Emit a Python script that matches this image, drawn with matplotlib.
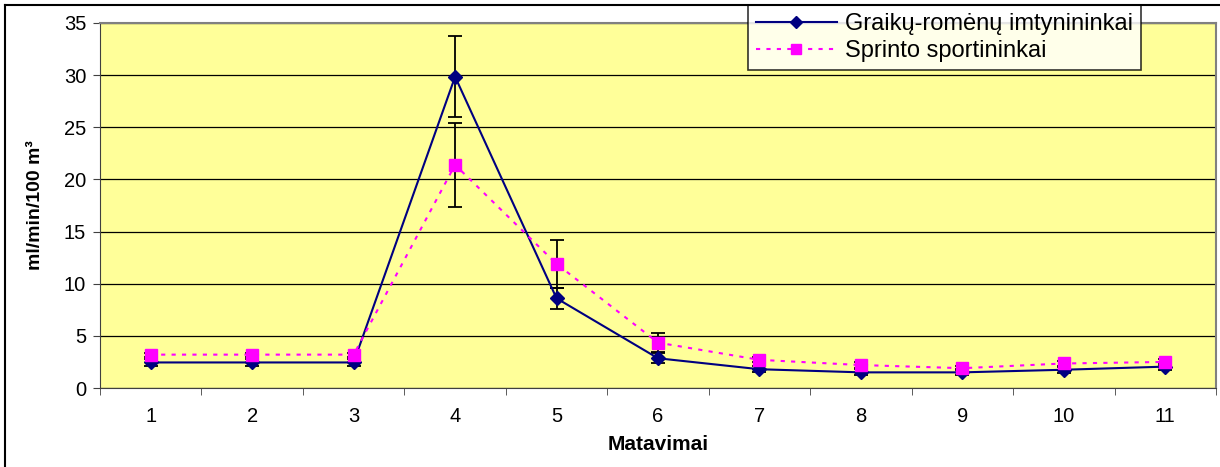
import matplotlib
matplotlib.use("Agg")
import matplotlib.pyplot as plt
from matplotlib.lines import Line2D
import numpy as np

plt.rcParams['font.family'] = ['Liberation Sans', 'DejaVu Sans']

measurements = [1, 2, 3, 4, 5, 6, 7, 8, 9, 10, 11]
wrestlers = [2.45, 2.45, 2.45, 29.85, 8.6, 2.85, 1.8, 1.5, 1.5, 1.75, 2.05]
wrestlers_err = [0.3, 0.3, 0.3, 3.9, 1.0, 0.5, 0.3, 0.3, 0.3, 0.3, 0.3]
sprinters = [3.2, 3.2, 3.2, 21.4, 11.9, 4.35, 2.7, 2.2, 1.9, 2.35, 2.5]
sprinters_err = [0.2, 0.2, 0.2, 4.05, 2.3, 0.9, 0.25, 0.25, 0.2, 0.25, 0.25]

label_wrestlers = "Graikų-romėnų imtynininkai"
label_sprinters = "Sprinto sportininkai"

fig = plt.figure(figsize=(12.2, 4.67), dpi=100)
ax = fig.add_axes([100 / 1220, 1 - 388 / 467, 1116 / 1220, 365 / 467])
ax.set_facecolor("#FFFF99")

x = np.array(measurements)

# error bars first, then the lines on top
ax.errorbar(x, wrestlers, yerr=wrestlers_err, fmt="none", ecolor="black",
            elinewidth=1.3, capsize=5, capthick=1.3, zorder=3)
ax.errorbar(x, sprinters, yerr=sprinters_err, fmt="none", ecolor="black",
            elinewidth=1.3, capsize=5, capthick=1.3, zorder=3)

l1, = ax.plot(x, wrestlers, color="#000080", lw=1.5, marker="D", ms=7.5,
              mfc="#000080", mec="#000080", label=label_wrestlers, zorder=4)
l2, = ax.plot(x, sprinters, color="#FF00FF", lw=1.5, ls=(0, (2, 3)),
              marker="s", ms=8.5, mfc="#FF00FF", mec="#FF00FF",
              label=label_sprinters, zorder=4)

ax.set_xlim(0.5, 11.5)
ax.set_ylim(0, 35)
ax.set_yticks(range(0, 36, 5))
ax.yaxis.grid(True, color="black", lw=0.9)
ax.set_axisbelow(True)

ax.set_xticks(x)
ax.set_xticklabels([str(m) for m in measurements])
ax.set_xticks(np.arange(0.5, 12, 1), minor=True)
ax.tick_params(axis="x", which="major", length=0, pad=14, labelsize=14.5)
ax.tick_params(axis="x", which="minor", length=5, color="#404040")
ax.tick_params(axis="y", length=5, labelsize=14.5, color="#404040", pad=5)

for side in ["top", "right"]:
    ax.spines[side].set_color("#808080")
    ax.spines[side].set_linewidth(1.5)
for side in ["left", "bottom"]:
    ax.spines[side].set_color("#404040")

ax.set_xlabel("Matavimai", fontsize=15, fontweight="bold", labelpad=6)
ax.set_ylabel("ml/min/100 m³", fontsize=14, fontweight="bold", labelpad=14)

leg = ax.legend(handles=[l1, l2], loc="upper left",
                bbox_to_anchor=(748 / 1220, 1 - 5 / 467),
                bbox_transform=fig.transFigure, fontsize=17,
                frameon=True, fancybox=False, borderpad=0.35,
                handlelength=3.4, handletextpad=0.35, labelspacing=0.2,
                borderaxespad=0, markerscale=0.8)
leg.get_frame().set_edgecolor("black")
leg.get_frame().set_linewidth(1.2)
leg.set_zorder(10)

# outer chart border
fig.add_artist(Line2D([5 / 1220, 5 / 1220], [0, 1 - 5 / 467], color="black", lw=1.5))
fig.add_artist(Line2D([5 / 1220, 1], [1 - 5 / 467, 1 - 5 / 467], color="black", lw=1.5))

fig.savefig("out.png", dpi=100)
